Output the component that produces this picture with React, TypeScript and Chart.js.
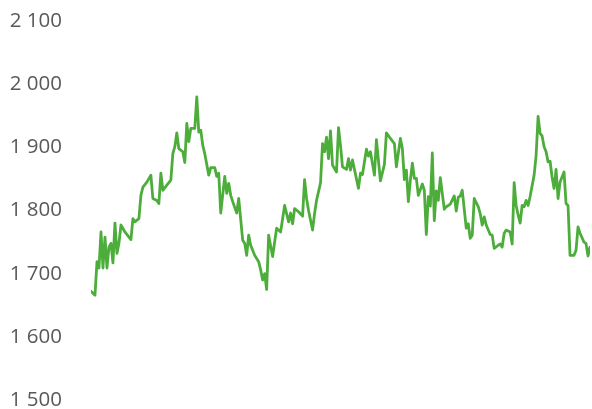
import React, { useEffect, useRef } from "react";
import { Chart, registerables } from "chart.js";

Chart.register(...registerables);

// Trading-day index of each observation
const days: number[] = [
  0, 2, 3, 4, 5, 6, 7, 8, 9, 10, 11, 12, 13, 14, 15, 17, 19, 20, 21, 22, 24, 25, 26, 28, 30, 31, 33, 34, 35, 36,
  38, 40, 41, 42, 43, 44, 46, 47, 48, 49, 50, 52, 53, 54, 55, 56, 57, 59, 60, 62, 63, 64, 65, 67, 68, 69, 70, 71,
  73, 74, 76, 77, 78, 79, 80, 82, 84, 85, 86, 87, 88, 89, 91, 92, 93, 95, 97, 98, 99, 100, 101, 102, 104, 106, 107,
  108, 109, 111, 112, 113, 115, 116, 117, 118, 119, 120, 121, 123, 124, 125, 126, 128, 129, 130, 131, 134, 135,
  136, 138, 139, 140, 142, 143, 145, 147, 148, 150, 152, 153, 155, 156, 157, 158, 159, 160, 161, 162, 163, 164,
  166, 167, 168, 169, 170, 171, 172, 173, 174, 175, 177, 178, 180, 182, 183, 184, 185, 186, 188, 189, 190, 191,
  192, 194, 195, 196, 197, 198, 200, 201, 202, 204, 205, 206, 207, 208, 210, 211, 212, 213, 214, 215, 216, 217,
  218, 219, 220, 222, 223, 224, 225, 226, 227, 228, 229, 230, 231, 232, 233, 234, 235, 237, 238, 239, 240, 242,
  243, 244, 245, 247, 248, 249, 250,
];

// Observed values
const values: number[] = [
  1672, 1666, 1719, 1709, 1766, 1709, 1758, 1709, 1742, 1748, 1717, 1780, 1732, 1748, 1777, 1766, 1758, 1754,
  1787, 1782, 1787, 1824, 1837, 1845, 1856, 1819, 1816, 1811, 1859, 1832, 1840, 1848, 1890, 1901, 1923, 1898,
  1893, 1876, 1938, 1909, 1930, 1930, 1980, 1924, 1927, 1903, 1890, 1856, 1868, 1868, 1854, 1859, 1796, 1854,
  1827, 1843, 1824, 1814, 1796, 1819, 1753, 1748, 1729, 1761, 1745, 1729, 1719, 1706, 1690, 1700, 1675, 1761,
  1727, 1750, 1772, 1766, 1808, 1795, 1782, 1796, 1779, 1803, 1798, 1791, 1849, 1819, 1800, 1769, 1795, 1816,
  1844, 1906, 1893, 1916, 1882, 1926, 1872, 1861, 1931, 1903, 1869, 1865, 1882, 1864, 1880, 1835, 1859, 1857,
  1897, 1886, 1893, 1856, 1912, 1847, 1873, 1923, 1914, 1906, 1869, 1914, 1898, 1849, 1864, 1814, 1848, 1875,
  1851, 1851, 1824, 1842, 1832, 1762, 1822, 1807, 1891, 1784, 1831, 1816, 1852, 1802, 1806, 1810, 1823, 1799,
  1821, 1823, 1832, 1772, 1779, 1756, 1761, 1819, 1806, 1795, 1777, 1790, 1777, 1762, 1761, 1740, 1745, 1747,
  1742, 1764, 1769, 1766, 1747, 1844, 1808, 1793, 1780, 1808, 1806, 1816, 1808, 1822, 1856, 1887, 1949, 1922,
  1918, 1901, 1893, 1877, 1878, 1853, 1835, 1865, 1819, 1845, 1861, 1811, 1808, 1729, 1729, 1737, 1774, 1764,
  1750, 1748, 1728, 1742,
];

const yTicks: number[] = [1500, 1600, 1700, 1800, 1900, 2000, 2100];

const fmt = (v: number) => String(v).replace(/\B(?=(\d{3})+(?!\d))/g, " ");

export default function App() {
  const ref = useRef<HTMLCanvasElement | null>(null);

  useEffect(() => {
    if (!ref.current) return;
    const points = days.map((d, i) => ({ x: d, y: values[i] }));
    const chart = new Chart(ref.current, {
      type: "line",
      data: {
        datasets: [
          {
            data: points,
            borderColor: "#4DAD3B",
            borderWidth: 2.8,
            pointRadius: 0,
            tension: 0,
            fill: false,
            borderJoinStyle: "round",
            borderCapStyle: "round",
          },
        ],
      },
      options: {
        animation: false,
        responsive: false,
        maintainAspectRatio: false,
        devicePixelRatio: 1,
        layout: { padding: { top: 21, bottom: 9, left: 0, right: 2 } },
        plugins: { legend: { display: false }, tooltip: { enabled: false } },
        scales: {
          x: {
            type: "linear",
            display: false,
            min: days[0],
            max: days[days.length - 1],
          },
          y: {
            min: yTicks[0],
            max: yTicks[yTicks.length - 1],
            grid: { display: false, drawTicks: false },
            border: { display: false },
            afterBuildTicks: (s: any) => {
              s.ticks = yTicks.map((v) => ({ value: v }));
            },
            afterFit: (s: any) => {
              s.width = 91;
              s.paddingTop = 0;
              s.paddingBottom = 0;
            },
            ticks: {
              padding: 29,
              color: "#595959",
              font: { family: "'Open Sans'", size: 20.5 },
              callback: (v: any) => fmt(Number(v)),
            },
          },
        },
      },
    });
    return () => chart.destroy();
  }, []);

  return (
    <div style={{ position: "fixed", left: 0, top: 0, width: 592, height: 409, background: "#fff" }}>
      <canvas ref={ref} width={592} height={409} style={{ display: "block" }} />
    </div>
  );
}
